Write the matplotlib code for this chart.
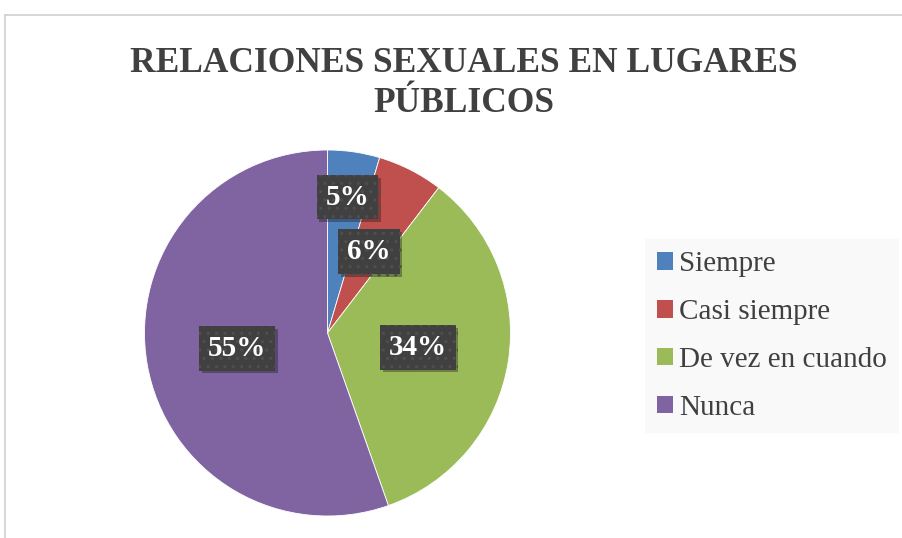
import numpy as np
import matplotlib
matplotlib.use("Agg")
import matplotlib.pyplot as plt
import matplotlib.patheffects as pe
from matplotlib.lines import Line2D

categories = ["Siempre", "Casi siempre", "De vez en cuando", "Nunca"]
values = [4.6, 5.8, 34.2, 55.4]
colors = ["#4F81BD", "#C0504D", "#9BBB59", "#8064A2"]
title = "RELACIONES SEXUALES EN LUGARES\nPÚBLICOS"

plt.rcParams["font.family"] = ["Liberation Serif", "DejaVu Serif"]
plt.rcParams["hatch.linewidth"] = 1.2

W, H = 903, 538
fig = plt.figure(figsize=(W / 100, H / 100), dpi=100)
fig.patch.set_facecolor("white")

# chart area border (cropped)
fig.add_artist(Line2D([5 / W, 1.0], [1 - 15 / H, 1 - 15 / H], color="#d0d0d0", lw=1.2))
fig.add_artist(Line2D([5 / W, 5 / W], [0, 1 - 15 / H], color="#d0d0d0", lw=1.2))

cx, cy, r = 327.5, 333, 183
ax = fig.add_axes([(cx - r) / W, (H - cy - r) / H, 2 * r / W, 2 * r / H])
wedges, texts, autotexts = ax.pie(values, colors=colors, startangle=90, counterclock=False,
                                  autopct=lambda p: "%.0f%%" % round(p), pctdistance=0.5,
                                  wedgeprops=dict(linewidth=0.6, edgecolor="white"),
                                  textprops=dict(color="white", fontsize=21, fontweight="bold"))
ax.set_xlim(-1, 1)
ax.set_ylim(-1, 1)
ax.set_aspect("equal")

# Excel pushes the smallest label outward
w0 = wedges[0]
mid = np.deg2rad((w0.theta1 + w0.theta2) / 2)
autotexts[0].set_position((0.75 * np.cos(mid), 0.75 * np.sin(mid)))

for t in autotexts:
    t.set_bbox(dict(boxstyle="square,pad=0.3", facecolor="#404040", edgecolor="#4e4e4e",
                    linewidth=0, hatch=".."))
    t.get_bbox_patch().set_path_effects([pe.SimplePatchShadow(offset=(2, -2), alpha=0.35),
                                         pe.Normal()])

fig.text(464 / W, 1 - 47 / H, title, ha="center", va="top", fontsize=25.5,
         fontweight="bold", color="#404040", linespacing=1.28)

handles = [plt.Rectangle((0, 0), 1, 1, facecolor=c, edgecolor="none") for c in colors]
leg = fig.legend(handles, categories, loc="upper left",
                 bbox_to_anchor=(645 / W, 1 - 239 / H), frameon=True, fancybox=False,
                 fontsize=21, labelcolor="#404040", handlelength=0.55, handleheight=0.55,
                 handletextpad=0.2, labelspacing=0.75, borderpad=0.42, borderaxespad=0)
leg.get_frame().set_facecolor("#f8f8f8")
leg.get_frame().set_edgecolor("none")

fig.savefig("out.png", dpi=100)
